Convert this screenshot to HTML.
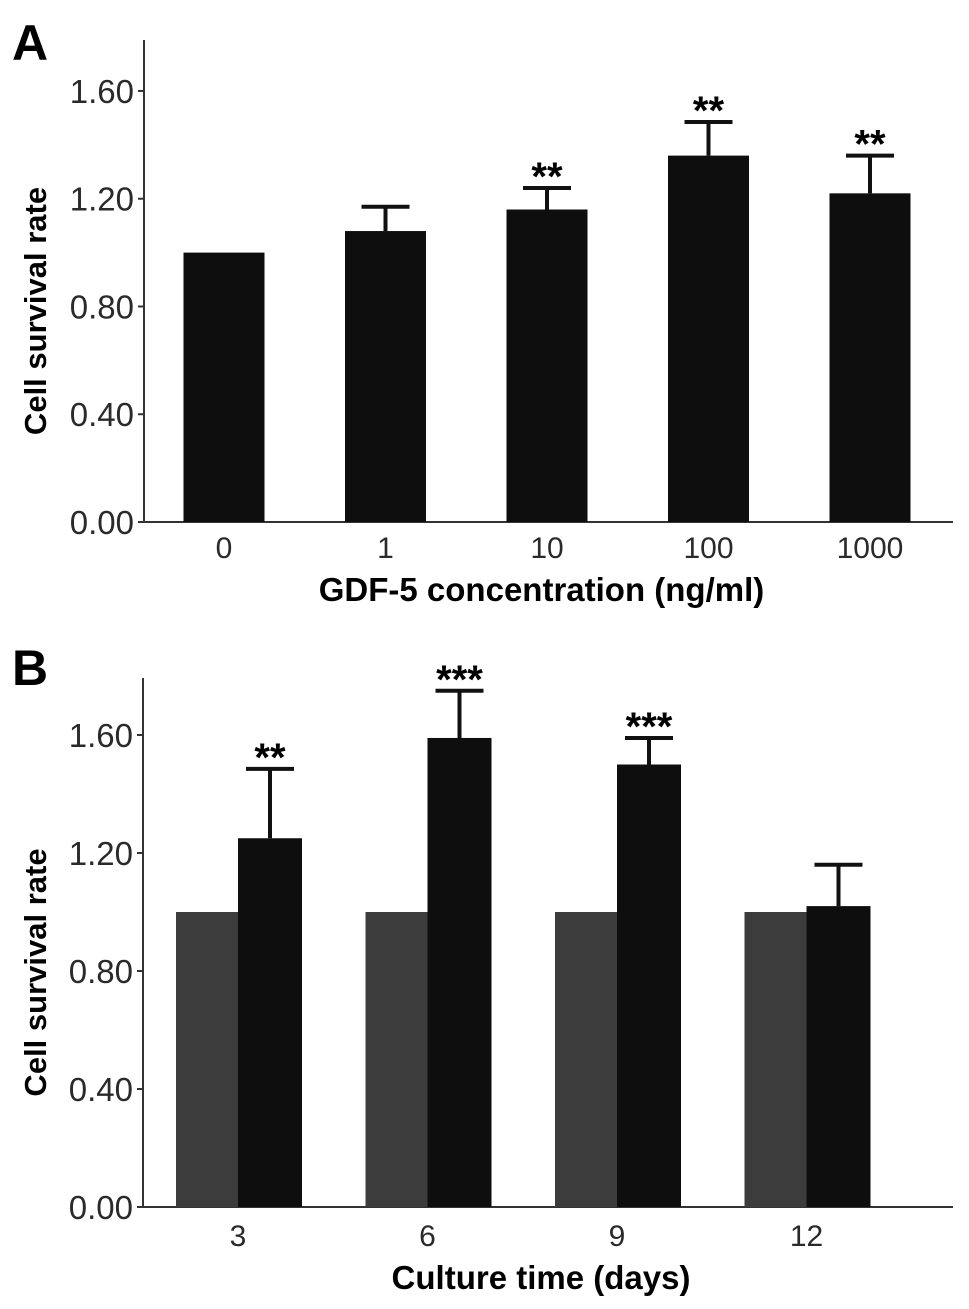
<!DOCTYPE html>
<html><head><meta charset="utf-8"><style>
html,body{margin:0;padding:0;background:#fff;}
svg{display:block;font-family:"Liberation Sans",Arial,sans-serif;}
</style></head><body>
<svg id="chart" width="969" height="1309" viewBox="0 0 969 1309" xmlns="http://www.w3.org/2000/svg">
<text x="12" y="60" font-size="50" font-weight="bold">A</text>
<text x="12" y="685" font-size="50" font-weight="bold">B</text>
<g id="pa"></g>
<g id="pb"></g>
</svg>
<script>
const ticksY = [0, 0.4, 0.8, 1.2, 1.6];
const tickLabels = ["0.00", "0.40", "0.80", "1.20", "1.60"];
const catsA = ["0", "1", "10", "100", "1000"];
const valsA = [1.0, 1.08, 1.16, 1.36, 1.22];
const errA = [1.0, 1.17, 1.24, 1.485, 1.36];
const sigA = ["", "", "**", "**", "**"];
const catsB = ["3", "6", "9", "12"];
const ctrlB = [1.0, 1.0, 1.0, 1.0];
const valsB = [1.25, 1.59, 1.50, 1.02];
const errB = [1.485, 1.75, 1.59, 1.16];
const sigB = ["**", "***", "***", ""];

const NS = "http://www.w3.org/2000/svg";
function mk(parent, tag, attrs, text) {
  const e = document.createElementNS(NS, tag);
  for (const k in attrs) e.setAttribute(k, attrs[k]);
  if (text !== undefined) e.textContent = text;
  parent.appendChild(e);
  return e;
}

function axes(g, ax, top, base, right, unit, xTitle, titleY) {
  const y = v => base - v * unit;
  let l = mk(g, "line", {x1: ax, y1: top, x2: ax, y2: base + 1, stroke: "#333", "stroke-width": 2});
  
  
  l = mk(g, "line", {x1: ax - 6, y1: base, x2: right, y2: base, stroke: "#333", "stroke-width": 2});
  
  
  ticksY.forEach((v, i) => {
    const t = mk(g, "line", {x1: ax - 6, y1: y(v), x2: ax, y2: y(v), stroke: "#333", "stroke-width": 2});
    
    
    const tx = mk(g, "text", {x: ax - 10, y: y(v) + 12, "font-size": 33, "text-anchor": "end", fill: "#2a2a2a"}, tickLabels[i]);
    
    
  });
  const yt = mk(g, "text", {x: 0, y: 0, "font-size": 31, "font-weight": "bold", "text-anchor": "middle", transform: `translate(46 ${(top + base) / 2 + 30}) rotate(-90)`}, "Cell survival rate");
  
  
  const xt = mk(g, "text", {x: (ax + right) / 2 -7, y: titleY, "font-size": 33, "font-weight": "bold", "text-anchor": "middle"}, xTitle);
  
  
  return y;
}

function errBar(g, cx, top, e, half) {
  const p = mk(g, "path", {d: `M${cx} ${top}V${e}M${cx - half} ${e}H${cx + half}`, stroke: "#111", "stroke-width": 4, fill: "none"});
  
  
}
function star(g, cx, e, s) {
  if (!s) return;
  const t = mk(g, "text", {x: cx, y: e + 14, "font-size": 40, "font-weight": "bold", "text-anchor": "middle"}, s);
  
  
}

// Panel A
(function () {
  const g = document.getElementById("pa");
  const ax = 144, base = 522, unit = 269.4, step = 161.5, c0 = 224, w = 81;
  const y = axes(g, ax, 40, base, 953, unit, "GDF-5 concentration (ng/ml)", 601);
  catsA.forEach((c, i) => {
    const cx = c0 + i * step;
    const b = mk(g, "rect", {x: cx - w / 2, y: y(valsA[i]), width: w, height: base - y(valsA[i]), fill: "#0e0e0e"});
    
    
    if (errA[i] > valsA[i] + 0.005) errBar(g, cx, y(valsA[i]), y(errA[i]), 24);
    star(g, cx, y(errA[i]) - 12, sigA[i]);
    const tl = mk(g, "text", {x: cx, y: 558, "font-size": 30, "text-anchor": "middle", fill: "#2a2a2a"}, c);
    
    
  });
})();

// Panel B
(function () {
  const g = document.getElementById("pb");
  const ax = 143, base = 1207, unit = 295, step = 189.5, c0 = 238, w = 62;
  const y = axes(g, ax, 678, base, 953, unit, "Culture time (days)", 1289);
  catsB.forEach((c, i) => {
    const cx = c0 + i * step;
    const gb = mk(g, "rect", {x: cx - w, y: y(ctrlB[i]), width: w, height: base - y(ctrlB[i]), fill: "#3c3c3c"});
    
    
    const bb = mk(g, "rect", {x: cx, y: y(valsB[i]), width: w + 2, height: base - y(valsB[i]), fill: "#0e0e0e"});
    
    
    const ex = cx + (w + 2) / 2;
    errBar(g, ex, y(valsB[i]), y(errB[i]), 24);
    star(g, ex, y(errB[i]) - 12, sigB[i]);
    const tl = mk(g, "text", {x: cx, y: 1246, "font-size": 30, "text-anchor": "middle", fill: "#2a2a2a"}, c);
    
    
  });
})();
</script>
</body></html>
